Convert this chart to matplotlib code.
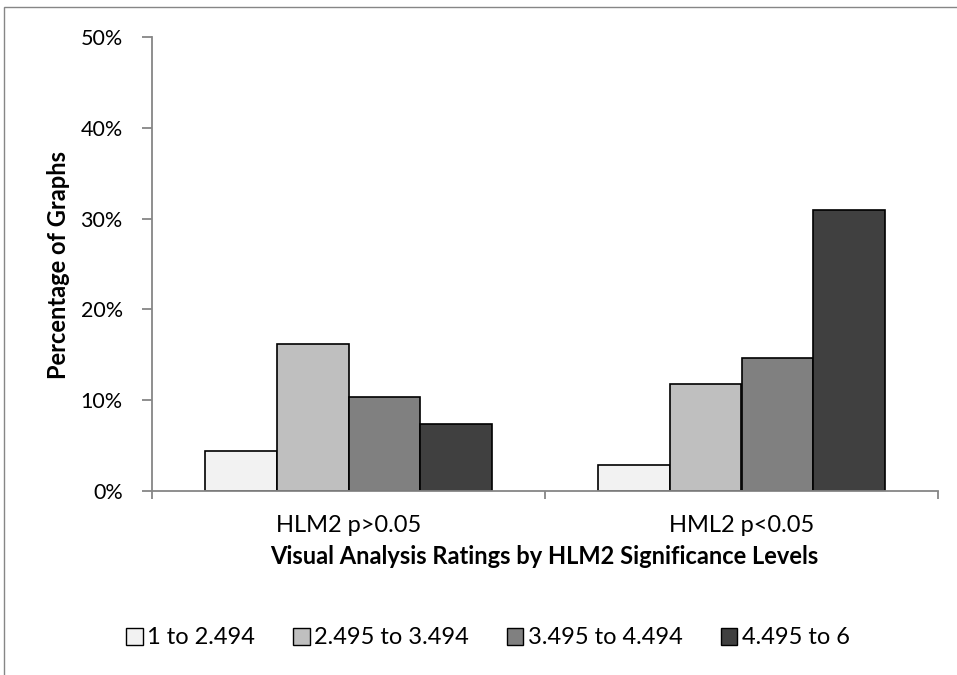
import matplotlib
matplotlib.use('Agg')
import matplotlib.pyplot as plt
import numpy as np
from matplotlib.patches import Rectangle, Patch
from matplotlib.ticker import FixedLocator, FuncFormatter

categories = ['HLM2 p>0.05', 'HML2 p<0.05']
series_labels = ['1 to 2.494', '2.495 to 3.494', '3.495 to 4.494', '4.495 to 6']
s1_values = [4.4, 2.9]
s2_values = [16.2, 11.8]
s3_values = [10.3, 14.7]
s4_values = [7.4, 30.9]
y_ticks = [0, 10, 20, 30, 40, 50]
x_title = 'Visual Analysis Ratings by HLM2 Significance Levels'
y_title = 'Percentage of Graphs'

colors = ['#F2F2F2', '#BFBFBF', '#808080', '#404040']
series_values = [s1_values, s2_values, s3_values, s4_values]

plt.rcParams['font.family'] = ['Lato', 'DejaVu Sans']
W, H = 957, 675
fig = plt.figure(figsize=(W / 100, H / 100), dpi=100)
ax = fig.add_axes([152 / W, 1 - 491 / H, (938 - 152) / W, (491 - 37) / H])

x = np.arange(len(categories))
bw = 0.182
for i, (vals, col, lab) in enumerate(zip(series_values, colors, series_labels)):
    ax.bar(x + (i - 1.5) * bw, vals, width=bw, color=col, edgecolor='black',
           linewidth=1.2, label=lab, zorder=3)

ax.set_xlim(-0.5, len(categories) - 0.5)
ax.set_ylim(0, 50)
ax.yaxis.set_major_locator(FixedLocator(y_ticks))
ax.yaxis.set_major_formatter(FuncFormatter(lambda v, p: f'{int(v)}%'))
ax.set_xticks(x)
ax.set_xticklabels(categories)
ax.set_xticks(np.arange(-0.5, len(categories)), minor=True)

spine_col = '#868686'
for s in ['top', 'right']:
    ax.spines[s].set_visible(False)
for s in ['left', 'bottom']:
    ax.spines[s].set_color(spine_col)
    ax.spines[s].set_linewidth(1.3)
    ax.spines[s].set_zorder(4)

ax.tick_params(axis='y', length=7, width=1.3, color=spine_col, pad=14, labelsize=15.5)
ax.tick_params(axis='x', which='major', length=0, pad=17, labelsize=17)
ax.tick_params(axis='x', which='minor', length=6, width=1.3, color=spine_col)

fig.text(544 / W, 1 - 557 / H, x_title, ha='center', va='center',
         fontsize=17, fontweight='bold')
fig.text(59 / W, 1 - 265 / H, y_title, ha='center', va='center',
         rotation=90, fontsize=17, fontweight='bold')

handles = [Patch(facecolor=c, edgecolor='black', linewidth=1.0) for c in colors]
fig.legend(handles, series_labels, loc='center', bbox_to_anchor=(488 / W, 1 - 638 / H),
           ncol=4, frameon=False, fontsize=17, handlelength=0.7, handleheight=0.7,
           handletextpad=0.2, columnspacing=1.6)

fig.patches.append(Rectangle((4 / W, -0.1), 1.2, 1 - 7 / H + 0.1, transform=fig.transFigure,
                             fill=False, edgecolor='#868686', linewidth=1.0))

fig.savefig('out.png', dpi=100)
